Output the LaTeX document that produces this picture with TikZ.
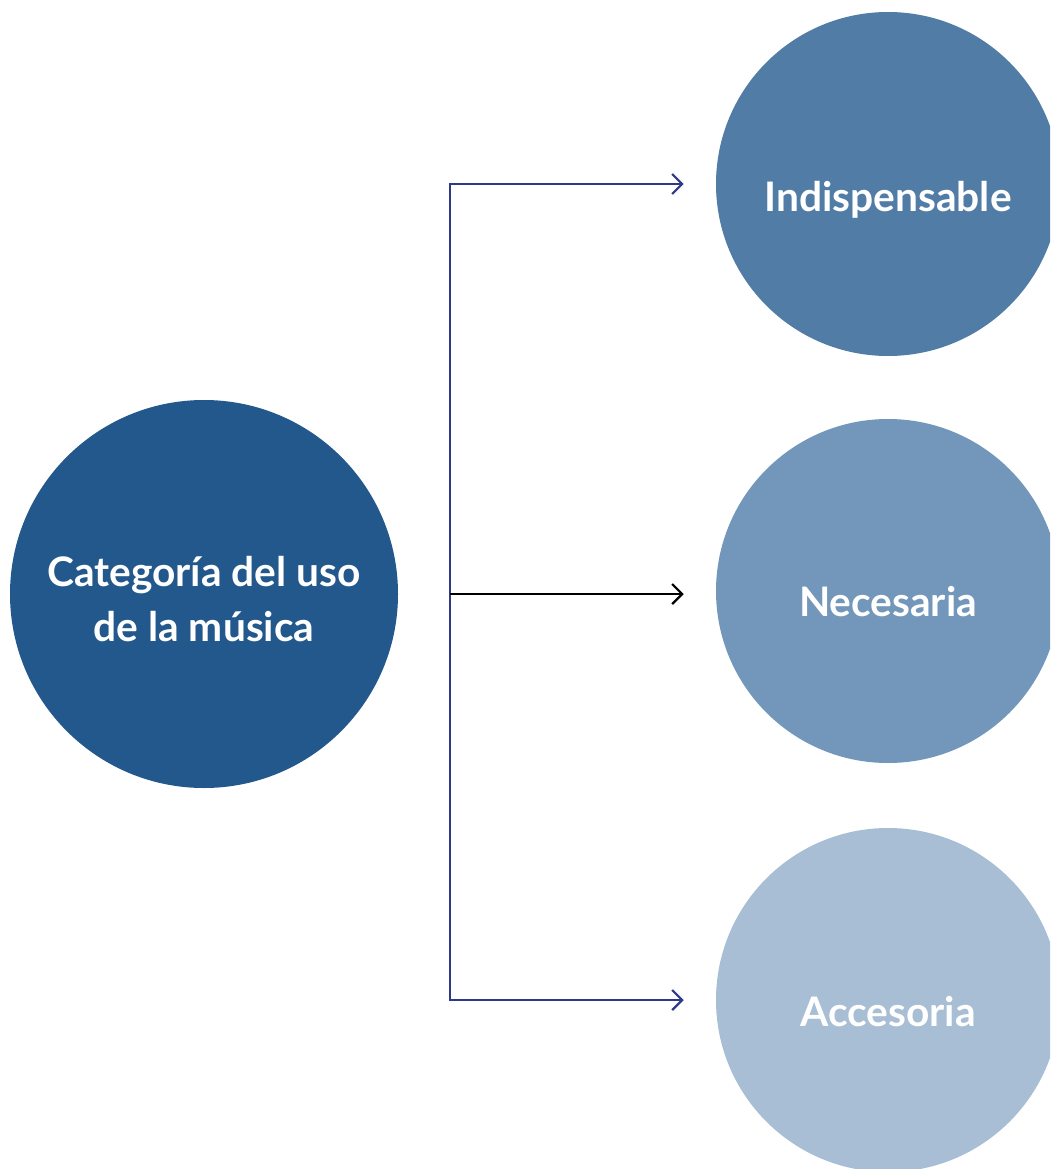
\documentclass[tikz,border=0pt]{standalone}
\usepackage{fontspec}
\setmainfont{Lato}
\usetikzlibrary{positioning, arrows.meta}
\definecolor{bluedark}{RGB}{35,88,140}
\definecolor{blueone}{RGB}{81,124,166}
\definecolor{bluetwo}{RGB}{115,151,186}
\definecolor{bluethree}{RGB}{168,190,212}
\definecolor{navy}{RGB}{46,58,135}

\begin{document}
\begin{tikzpicture}[
    % GLOBAL CFG
    x=0.75pt, y=-0.75pt,
    font=\bfseries,
    >={Straight Barb[length=7.5pt, width=15pt, line width=1.6pt]},
    % Styles
    main/.style={% For the category circle
        circle,
        minimum size=291pt,
        inner sep=0pt,
        fill=bluedark,
    },
    bubble/.style={% For the three kinds
        circle,
        minimum size=258pt,
        inner sep=0pt,
    },
    mylabel/.style={
        font=\fontsize{30.5}{41}\selectfont\bfseries,
        text=white,
        align=center,
    },
    branch/.style={% Arrows of the tree
        draw=navy,
        line width=1.8pt,
        shorten >=24pt,
    },
    ]

    % Frame
    \useasboundingbox (0,0) rectangle (1050,1169);
    \clip (0,0) rectangle (1050,1169);

    % Draw circles
    \node [main, label={[mylabel, yshift=-4pt]center:Categoría del uso\\de la música}] (cat) at (204,594) {};
    \node [bubble, fill=blueone, label={[mylabel, yshift=-12pt]center:Indispensable}] (ind) at (888,184) {};
    \node [bubble, fill=bluetwo, label={[mylabel, yshift=-8pt]center:Necesaria}] (nec) at (888,591) {};
    \node [bubble, fill=bluethree, label={[mylabel, yshift=-9pt]center:Accesoria}] (acc) at (888,1000) {};

    % Fork point
    \coordinate (fork) at (450,594);

    % Connect all
    \draw [->, branch] (fork) |- (ind);
    \draw [->, branch] (fork) |- (acc);
    \draw [->, branch, draw=black] (fork) -- (fork -| nec.west);

\end{tikzpicture}
\end{document}
